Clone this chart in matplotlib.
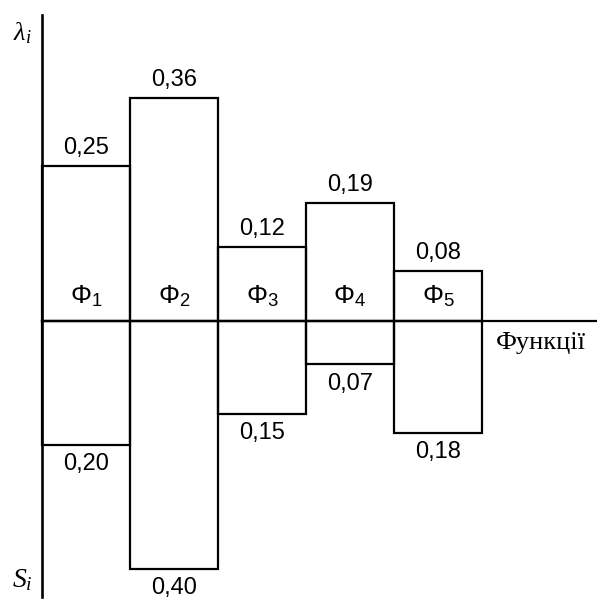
import numpy as np
import matplotlib.pyplot as plt

plt.rcParams['font.family'] = ['Liberation Sans', 'DejaVu Sans']
plt.rcParams['mathtext.fontset'] = 'custom'
plt.rcParams['mathtext.rm'] = 'Liberation Sans'
plt.rcParams['mathtext.it'] = 'Liberation Serif:italic'

funcs = ['1', '2', '3', '4', '5']
lam = [0.25, 0.36, 0.12, 0.19, 0.08]
s_vals = [0.20, 0.40, 0.15, 0.07, 0.18]
lam_labels = ['0,25', '0,36', '0,12', '0,19', '0,08']
s_labels = ['0,20', '0,40', '0,15', '0,07', '0,18']

W, H = 597, 604
fig = plt.figure(figsize=(W / 100, H / 100), dpi=100)
ax = fig.add_axes([0, 0, 1, 1])

# pixel layout: origin at (42, 321), bar width 88 px, 620 px per unit
x0, y0, bw, k = 42, 321, 88, 620
ax.set_xlim(-x0 / bw, (W - x0) / bw)
ax.set_ylim(-(H - y0) / k, y0 / k)
ax.axis('off')

idx = np.arange(len(funcs))
lw = 1.6
ax.bar(idx, lam, width=1, align='edge', fill=False, edgecolor='black', linewidth=lw)
ax.bar(idx, [-v for v in s_vals], width=1, align='edge', fill=False, edgecolor='black', linewidth=lw)

# axes lines
ax.axhline(0, xmin=x0 / W, color='black', linewidth=lw)
ax.axvline(0, ymin=(H - 597) / H, ymax=(H - 15) / H, color='black', linewidth=lw + 0.3)

for i in idx:
    ax.annotate(lam_labels[i], (i + 0.5, lam[i]), xytext=(0, 5), textcoords='offset points',
                ha='center', va='bottom', fontsize=17)
    ax.annotate(s_labels[i], (i + 0.5, -s_vals[i]), xytext=(0, -6), textcoords='offset points',
                ha='center', va='top', fontsize=17)
    ax.annotate('Φ$_{' + funcs[i] + '}$', (i + 0.5, 0), xytext=(0, 13), textcoords='offset points',
                ha='center', va='baseline', fontsize=19)

ax.text(22 / W, 1 - 33 / H, r'$\lambda_i$', transform=ax.transAxes, ha='center', va='center', fontsize=19)
ax.text(22 / W, 1 - 580 / H, r'$S_i$', transform=ax.transAxes, ha='center', va='center', fontsize=20)
ax.text(496 / W, 1 - 343 / H, 'Функції', transform=ax.transAxes, ha='left', va='center',
        fontsize=19, family=['Liberation Serif', 'DejaVu Serif'])

fig.savefig('out.png', dpi=100)
